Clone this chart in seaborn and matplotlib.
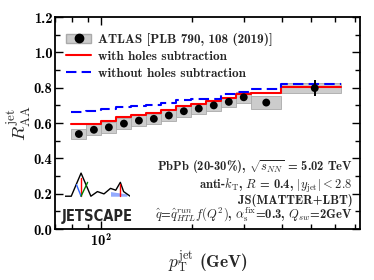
import numpy as np
import pandas as pd
import matplotlib
matplotlib.use("Agg")
import matplotlib.pyplot as plt
import matplotlib.ticker as mticker
from matplotlib.patches import Patch
from matplotlib.lines import Line2D
import seaborn as sns

# ATLAS bins (GeV) and values
bin_edges = [79.4, 89.1, 100.0, 112.2, 125.9, 141.3, 158.5, 177.8, 199.5, 223.9, 251.2, 281.8, 316.2, 398.1, 631.0]
atlas_pt = [84.1, 94.4, 105.9, 118.9, 133.4, 149.6, 167.9, 188.4, 211.3, 237.1, 266.1, 298.5, 354.8, 515.0]
atlas_raa = [0.538, 0.562, 0.576, 0.597, 0.614, 0.624, 0.643, 0.667, 0.682, 0.700, 0.720, 0.746, 0.716, 0.798]
atlas_stat = [0.006, 0.006, 0.006, 0.006, 0.006, 0.006, 0.007, 0.007, 0.008, 0.009, 0.010, 0.012, 0.014, 0.047]
atlas_sys = [0.030, 0.030, 0.030, 0.030, 0.030, 0.030, 0.030, 0.030, 0.030, 0.030, 0.030, 0.032, 0.035, 0.027]

# JETSCAPE (MATTER+LBT) per bin
with_holes = [0.592, 0.592, 0.610, 0.632, 0.648, 0.655, 0.675, 0.695, 0.710, 0.725, 0.740, 0.765, 0.770, 0.803]
without_holes = [0.665, 0.668, 0.678, 0.690, 0.695, 0.700, 0.712, 0.733, 0.735, 0.738, 0.762, 0.776, 0.790, 0.822]

sns.set_theme(style="ticks")
plt.rcParams["font.family"] = ["cmb10", "DejaVu Serif"]
plt.rcParams["mathtext.fontset"] = "cm"
plt.rcParams["axes.formatter.use_mathtext"] = True
plt.rcParams["axes.unicode_minus"] = False

fig = plt.figure(figsize=(3.74, 2.80), dpi=100)
ax = fig.add_axes([0.147, 0.182, 0.816, 0.757])

# systematic boxes
lo = np.array(bin_edges[:-1])
hi = np.array(bin_edges[1:])
ax.bar(lo, 2 * np.array(atlas_sys), bottom=np.array(atlas_raa) - np.array(atlas_sys),
       width=hi - lo, align="edge", color="#cccccc", edgecolor="#aaaaaa", linewidth=0.6, zorder=1)

# step curves
def steps(vals):
    return pd.DataFrame({"pt": bin_edges, "raa": list(vals) + [vals[-1]]})

sns.lineplot(data=steps(with_holes), x="pt", y="raa", ax=ax, color="#ff0000", lw=1.5,
             drawstyle="steps-post", estimator=None, sort=False, zorder=3)
sns.lineplot(data=steps(without_holes), x="pt", y="raa", ax=ax, color="#0000ff", lw=1.5,
             drawstyle="steps-post", estimator=None, sort=False, zorder=3, linestyle=(0, (5, 2.5)))

# data points
ax.errorbar(atlas_pt, atlas_raa, yerr=atlas_stat, fmt="none", ecolor="black", elinewidth=1.4, zorder=4)
sns.scatterplot(x=atlas_pt, y=atlas_raa, ax=ax, color="black", s=32, edgecolor="none", zorder=5)

ax.set_xscale("log")
ax.set_xlim(70, 730)
ax.set_ylim(0, 1.2)
ax.yaxis.set_major_locator(mticker.MultipleLocator(0.2))
ax.yaxis.set_minor_locator(mticker.MultipleLocator(0.1))
ax.yaxis.set_major_formatter(mticker.FormatStrFormatter("%.1f"))
ax.xaxis.set_major_locator(mticker.LogLocator(base=10))
ax.xaxis.set_minor_locator(mticker.LogLocator(base=10, subs=np.arange(2, 10)))
ax.xaxis.set_minor_formatter(mticker.NullFormatter())
ax.tick_params(which="both", direction="in", top=True, right=True, labelsize=10.5, width=1.0, colors="black")
ax.tick_params(which="major", length=6, pad=2)
ax.tick_params(which="minor", length=3.5)
for s in ax.spines.values():
    s.set_linewidth(1.3)
    s.set_color("black")

ax.set_xlabel(r"$p_{\rm T}^{\rm jet}$ (GeV)", fontsize=12.5, labelpad=0)
ax.set_ylabel(r"$R_{\rm AA}^{\rm jet}$", fontsize=13.5, labelpad=0)

handles = [(Patch(facecolor="#cccccc", edgecolor="#aaaaaa"),
            Line2D([], [], marker="o", color="black", ls="none", ms=6)),
           Line2D([], [], color="#ff0000", lw=1.5),
           Line2D([], [], color="#0000ff", lw=1.5, ls=(0, (5, 2.5)))]
labels = ["ATLAS [PLB 790, 108 (2019)]", "with holes subtraction", "without holes subtraction"]
ax.legend(handles, labels, loc="upper left", bbox_to_anchor=(0.02, 0.95), frameon=False,
          fontsize=9.5, handlelength=1.9, handletextpad=0.5, labelspacing=0.35, borderaxespad=0)

txt = [r"PbPb (20-30%), $\sqrt{s_{NN}}$ = 5.02 TeV",
       r"anti-$k_{\rm T}$, $R$ = 0.4, $|y_{\rm jet}| < 2.8$",
       r"JS(MATTER+LBT)",
       r"$\hat{q}$=$\hat{q}^{run}_{HTL}f(Q^2)$, $\alpha_{\rm s}^{\rm fix}$=0.3, $Q_{sw}$=2GeV"]
for t, yy in zip(txt, [0.29, 0.203, 0.137, 0.07]):
    ax.text(0.975, yy, t, transform=ax.transAxes, ha="right", va="center", fontsize=9)

# JETSCAPE logo
lax = fig.add_axes([0.173, 0.225, 0.175, 0.165])
lax.axis("off")
lax.set_xlim(0, 1)
lax.set_ylim(0, 1)
wave_x = [0.0, 0.1, 0.25, 0.4, 0.5, 0.6, 0.7, 0.78, 0.85, 0.9, 0.95, 1.0]
wave_y = [0.45, 0.45, 0.95, 0.45, 0.55, 0.5, 0.62, 0.58, 0.75, 0.55, 0.5, 0.45]
lax.plot(wave_x, wave_y, color="black", lw=1.0)
lax.plot([0.25, 0.25], [0.45, 0.85], color="red", lw=1.0)
lax.plot([0.18, 0.25], [0.7, 0.45], color="#3366ff", lw=1.0)
lax.plot([0.25, 0.35], [0.45, 0.75], color="green", lw=1.0)
lax.plot([0.85, 0.85], [0.45, 0.72], color="red", lw=1.0)
lax.fill_between([0.7, 0.95], [0.45, 0.45], [0.55, 0.5], color="#6688ff", alpha=0.7, lw=0)
lax.text(0.5, -0.15, "JETSCAPE", ha="center", va="bottom", fontsize=10.5, fontweight="bold",
         family="DejaVu Sans", fontstretch="condensed")

fig.savefig("out.png", dpi=100)
